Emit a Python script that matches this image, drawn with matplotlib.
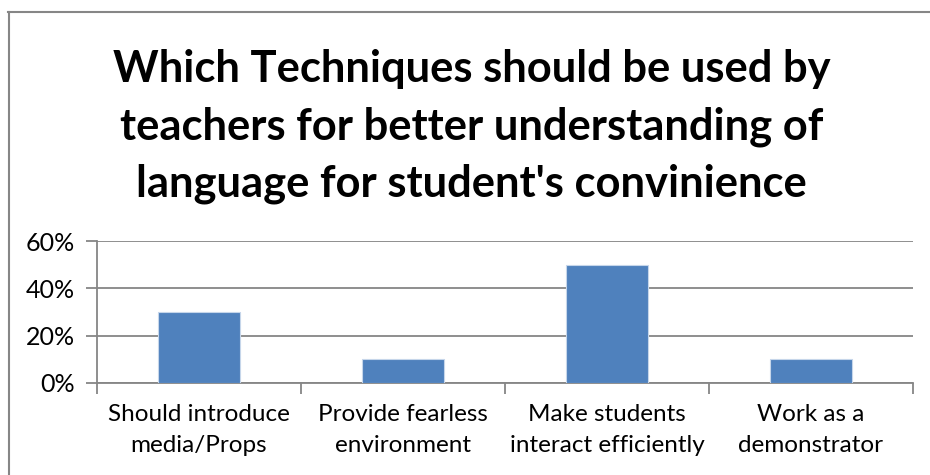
import matplotlib.pyplot as plt
from matplotlib.lines import Line2D
from matplotlib.ticker import PercentFormatter

# Dados do gráfico
categorias = ['Should introduce\nmedia/Props', 'Provide fearless\nenvironment',
              'Make students\ninteract efficiently', 'Work as a\ndemonstrator']
valores = [0.30, 0.10, 0.50, 0.10]
titulo = ("Which Techniques should be used by\n"
          "teachers for better understanding of\n"
          "language for student's convinience")

plt.rcParams['font.family'] = ['Lato', 'DejaVu Sans']

fig = plt.figure(figsize=(9.3, 4.75), dpi=100)
ax = fig.add_axes([0.1043, 0.1937, 0.8774, 0.2989])

cinza = '#868686'
x = range(len(categorias))
ax.bar(x, valores, width=0.4, color='#4F81BD', edgecolor='#C6D6EA', linewidth=0.8, zorder=3)

ax.set_xlim(-0.5, len(categorias) - 0.5)
ax.set_ylim(0, 0.6)
ax.set_yticks([0, 0.2, 0.4, 0.6])
ax.yaxis.set_major_formatter(PercentFormatter(1.0, decimals=0))
ax.grid(axis='y', color=cinza, linewidth=1.3, zorder=0)

# Marcas do eixo x entre as categorias
ax.set_xticks([i - 0.5 for i in range(len(categorias) + 1)])
ax.set_xticklabels([])
ax.set_xticks(list(x), minor=True)
ax.set_xticklabels(categorias, minor=True, fontsize=17.5, linespacing=1.6)
ax.tick_params(axis='x', which='minor', length=0, pad=15)
ax.tick_params(axis='x', which='major', length=8, width=1.3, color=cinza)
ax.tick_params(axis='y', length=8, width=1.3, color=cinza, labelsize=18, pad=8)

for lado in ['top', 'right']:
    ax.spines[lado].set_visible(False)
for lado in ['left', 'bottom']:
    ax.spines[lado].set_color(cinza)
    ax.spines[lado].set_linewidth(1.3)

fig.text(0.507, 0.733, titulo, ha='center', va='center', fontsize=31.3,
         fontweight='bold', linespacing=1.52)

# Moldura do gráfico (topo e lado esquerdo)
fig.add_artist(Line2D([8 / 930, 1.01], [1 - 11.5 / 475] * 2, color=cinza, linewidth=1.5))
fig.add_artist(Line2D([8.5 / 930] * 2, [-0.01, 1 - 11.5 / 475], color=cinza, linewidth=1.5))

fig.savefig('out.png', dpi=100)
